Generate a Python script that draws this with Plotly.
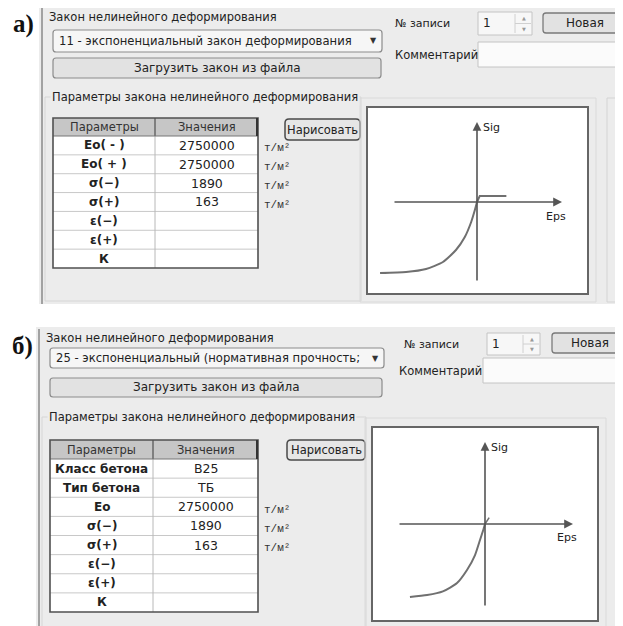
import plotly.graph_objects as go

W, H = 623, 626          # reference picture size
OFF = 8                  # page body margin of the browser
FW, FH = W - OFF, H - OFF  # figure size so that it fits the window

# ---------------- data ----------------
panel_labels = ["а)", "б)"]
law_group_title = "Закон нелинейного деформирования"
law_names = ["11 - экспоненциальный закон деформирования",
             "25 - экспоненциальный (нормативная прочность;"]
load_button = "Загрузить закон из файла"
record_label = "№ записи"
record_no = "1"
new_button = "Новая"
comment_label = "Комментарий"
params_title = "Параметры закона нелинейного деформирования"
table_headers = ["Параметры", "Значения"]
draw_button = "Нарисовать"
unit = "т/м²"
axis_x_label = "Eps"
axis_y_label = "Sig"

params_a = ["Eo( - )", "Eo( + )", "σ(−)", "σ(+)", "ε(−)", "ε(+)", "К"]
values_a = ["2750000", "2750000", "1890", "163", "", "", ""]
units_a = [unit, unit, unit, unit, "", "", ""]

params_b = ["Класс бетона", "Тип бетона", "Eo", "σ(−)", "σ(+)", "ε(−)", "ε(+)", "К"]
values_b = ["B25", "ТБ", "2750000", "1890", "163", "", "", ""]
units_b = ["", "", unit, unit, unit, "", "", ""]

# stress-strain curves (relative units)
eps_a_comp = [-3.5, -2.56, -1.84, -1.23, -0.76, -0.44, -0.21, -0.08, 0]
sig_a_comp = [-1890, -1863, -1783, -1597, -1278, -932, -532, -221, 0]
eps_a_tens = [0, 0.1, 1.06]
sig_a_tens = [0, 163, 163]
eps_b_comp = [-2.71, -2.09, -1.52, -1.01, -0.65, -0.36, -0.18, -0.06, 0]
sig_b_comp = [-1890, -1839, -1743, -1528, -1191, -803, -414, -148, 0]
eps_b_tens = [0, 0.15]
sig_b_tens = [0, 163]

# ---------------- helpers ----------------
UI = "DejaVu Sans"
TXT = "#222222"
BG = "#ececec"

shapes = []
annotations = []


def px(x):
    return (x - OFF) / FW


def py(y):
    return 1 - (y - OFF) / FH


def rect(x0, y0, x1, y1, fill="rgba(0,0,0,0)", line="#888888", lw=1.0):
    shapes.append(dict(type="rect", xref="paper", yref="paper",
                       x0=px(x0), x1=px(x1), y0=py(y1), y1=py(y0),
                       fillcolor=fill, line=dict(color=line, width=lw), layer="below"))


def rrect(x0, y0, x1, y1, r, fill, line, lw=1.0):
    pts = [("M", (x0 + r, y0)), ("L", (x1 - r, y0)), ("Q", (x1, y0), (x1, y0 + r)),
           ("L", (x1, y1 - r)), ("Q", (x1, y1), (x1 - r, y1)), ("L", (x0 + r, y1)),
           ("Q", (x0, y1), (x0, y1 - r)), ("L", (x0, y0 + r)), ("Q", (x0, y0), (x0 + r, y0))]
    s = ""
    for p in pts:
        s += p[0] + " " + " ".join(f"{px(a):.5f},{py(b):.5f}" for a, b in p[1:]) + " "
    s += "Z"
    shapes.append(dict(type="path", xref="paper", yref="paper", path=s,
                       fillcolor=fill, line=dict(color=line, width=lw), layer="below"))


def hline(x0, x1, y, color="#999999", lw=1.0):
    shapes.append(dict(type="line", xref="paper", yref="paper", x0=px(x0), x1=px(x1),
                       y0=py(y), y1=py(y), line=dict(color=color, width=lw), layer="below"))


def vline(x, y0, y1, color="#999999", lw=1.0):
    shapes.append(dict(type="line", xref="paper", yref="paper", x0=px(x), x1=px(x),
                       y0=py(y0), y1=py(y1), line=dict(color=color, width=lw), layer="below"))


def text(x, y, s, size=12, anchor="left", family=UI, color=TXT, bg=None, yanchor="middle"):
    a = dict(xref="paper", yref="paper", x=px(x), y=py(y), text=s, showarrow=False,
             xanchor=anchor, yanchor=yanchor, font=dict(family=family, size=size, color=color))
    if bg:
        a["bgcolor"] = bg
    annotations.append(a)


def panel(oy, lx, lab, law, params, values, units, tbl, plot, dd, btn, rec, newb, com, comb, drawb, tyt):
    # gray background + left border
    rect(lx - 3, oy[0], W + 2, oy[1], fill=BG, line=BG, lw=0)
    vline(lx, oy[0] + 2, oy[1], color="#8a8a8a", lw=1.5)
    # panel letter
    text(lab[0], lab[1], "<b>" + lab[2] + "</b>", size=25, anchor="center",
         family="Liberation Serif", yanchor="top", color="#111111")
    text(lx + 5, oy[0] + 11, law_group_title, size=11.5)
    # combobox
    rrect(dd[0], dd[1], dd[2], dd[3], 3, "#f6f6f6", "#8c8c8c", 1.2)
    text(dd[0] + 4, (dd[1] + dd[3]) / 2, law, size=11.6)
    text(dd[2] - 9, (dd[1] + dd[3]) / 2, "▼", size=8, anchor="center", color="#333333")
    # load button
    rrect(btn[0], btn[1], btn[2], btn[3], 3, "#e2e2e2", "#8c8c8c", 1.2)
    text((btn[0] + btn[2]) / 2, (btn[1] + btn[3]) / 2, load_button, size=12, anchor="center")
    # record number
    text(rec[0] - 85, (rec[1] + rec[3]) / 2, record_label, size=11)
    rect(rec[0], rec[1], rec[2], rec[3], fill="#f7f7f7", line="#c4c4c4", lw=1)
    vline(rec[2] - 17, rec[1] + 2, rec[3] - 2, color="#d0d0d0")
    hline(rec[2] - 17, rec[2] - 1, (rec[1] + rec[3]) / 2, color="#d0d0d0")
    text(rec[0] + 9, (rec[1] + rec[3]) / 2, record_no, size=12, anchor="center")
    text(rec[2] - 8, rec[1] + 6, "▲", size=5, anchor="center", color="#999999")
    text(rec[2] - 8, rec[3] - 6, "▼", size=5, anchor="center", color="#999999")
    rrect(newb[0], newb[1], newb[2], newb[3], 3, "#e2e2e2", "#7a7a7a", 1.3)
    text((newb[0] + min(newb[2], W)) / 2 + 2, (newb[1] + newb[3]) / 2, new_button, size=12, anchor="center")
    # comment
    text(com[0], com[1], comment_label, size=11.5)
    rect(comb[0], comb[1], comb[2], comb[3], fill="#fbfbfb", line="#c4c4c4", lw=1)
    # parameter group box (faint)
    rect(lx + 3, tyt, plot[0] - 6, oy[1] - 3, line="#d6d6d6", lw=1)
    text(tbl[0] - 3, tyt, params_title, size=11.5, bg=BG)
    # table
    x0, y0, x1, y1, xd, hh = tbl
    n = len(params)
    rh = (y1 - y0 - hh) / n
    rect(x0, y0 + hh, x1, y1, fill="#ffffff", line="#ffffff", lw=0)
    rect(x0, y0, x1, y0 + hh, fill="#c6c6c6", line="#c6c6c6", lw=0)
    for i in range(1, n):
        hline(x0, x1, y0 + hh + i * rh, color="#c8c8c8", lw=1)
    vline(xd, y0, y1, color="#b8b8b8", lw=1)
    vline(xd, y0, y0 + hh, color="#555555", lw=1.2)
    hline(x0, x1, y0 + hh, color="#777777", lw=1)
    rect(x0, y0, x1, y1, line="#505050", lw=1.6)
    vline(x1 - 1, y0, y0 + hh, color="#333333", lw=2)
    text((x0 + xd) / 2, y0 + hh / 2, table_headers[0], size=11.5, anchor="center", color="#333333")
    text((xd + x1) / 2, y0 + hh / 2, table_headers[1], size=11.5, anchor="center", color="#333333")
    for i in range(n):
        yc = y0 + hh + (i + 0.5) * rh
        text((x0 + xd) / 2, yc, "<b>" + params[i] + "</b>", size=12, anchor="center")
        if values[i]:
            text((xd + x1) / 2, yc, values[i], size=12.5, anchor="center")
        if units[i]:
            text(x1 + 4, yc + 3, units[i], size=11, family="Liberation Mono", color="#333333")
    # draw button
    rrect(drawb[0], drawb[1], drawb[2], drawb[3], 4, "#e6e6e6", "#4a4a4a", 1.5)
    text((drawb[0] + drawb[2]) / 2, (drawb[1] + drawb[3]) / 2, draw_button, size=11.5, anchor="center")
    # plot group panels (faint) and white plot box
    rect(plot[0] - 7, plot[1] - 9, plot[2] + 8, oy[1] - 2, line="#dadada", lw=1)
    rect(plot[2] + 19, plot[1] - 9, W + 10, oy[1] - 2, line="#d4d4d4", lw=1)
    rect(plot[0], plot[1], plot[2], plot[3], fill="#ffffff", line="#666666", lw=2)


# panel a
panel(oy=(6, 304), lx=42, lab=(23, 8, panel_labels[0]), law=law_names[0],
      params=params_a, values=values_a, units=units_a,
      tbl=(53, 118, 258, 268, 155, 18), plot=(367, 107, 588, 294),
      dd=(53, 30, 382, 52), btn=(53, 58, 381, 78), rec=(478, 12, 532, 35),
      newb=(543, 13, 632, 33), com=(393, 55), comb=(478, 42, 640, 67),
      drawb=(285, 119, 360, 140), tyt=97)

# panel b
panel(oy=(327, 630), lx=39, lab=(22, 330, panel_labels[1]), law=law_names[1],
      params=params_b, values=values_b, units=units_b,
      tbl=(50, 440, 258, 612, 153, 19), plot=(372, 427, 598, 621),
      dd=(50, 348, 384, 368), btn=(50, 378, 382, 397), rec=(487, 333, 540, 355),
      newb=(552, 333, 640, 353), com=(397, 371), comb=(483, 358, 640, 383),
      drawb=(287, 440, 365, 460), tyt=417)

# ---------------- stress-strain plots ----------------
EPS_PX = 27.7  # px per eps unit


def setup_axes(box, origin, sig_px):
    bx0, by0, bx1, by1 = box
    ox, oy = origin
    xr = [(bx0 - ox) / EPS_PX, (bx1 - ox) / EPS_PX]
    yr = [(oy - by1) / sig_px, (oy - by0) / sig_px]
    xa = dict(domain=[px(bx0), px(bx1)], range=xr, visible=False, fixedrange=True)
    ya = dict(domain=[py(by1), py(by0)], range=yr, visible=False, fixedrange=True)
    return xa, ya


sig_px_a = 71 / 1890
sig_px_b = 73 / 1890
origin_a = (477, 202)
origin_b = (485, 524)
xa1, ya1 = setup_axes((369, 109, 586, 292), origin_a, sig_px_a)
xa2, ya2 = setup_axes((374, 429, 596, 619), origin_b, sig_px_b)
ya1["anchor"] = "x"
xa1["anchor"] = "y"
ya2["anchor"] = "x2"
xa2["anchor"] = "y2"

fig = go.Figure()
curve_style = dict(color="#707070", width=2, shape="spline", smoothing=0.6)
fig.add_trace(go.Scatter(x=eps_a_comp, y=sig_a_comp, mode="lines", line=curve_style,
                         xaxis="x", yaxis="y", showlegend=False, hoverinfo="skip"))
fig.add_trace(go.Scatter(x=eps_a_tens, y=sig_a_tens, mode="lines",
                         line=dict(color="#707070", width=2),
                         xaxis="x", yaxis="y", showlegend=False, hoverinfo="skip"))
fig.add_trace(go.Scatter(x=eps_b_comp, y=sig_b_comp, mode="lines", line=curve_style,
                         xaxis="x2", yaxis="y2", showlegend=False, hoverinfo="skip"))
fig.add_trace(go.Scatter(x=eps_b_tens, y=sig_b_tens, mode="lines",
                         line=dict(color="#707070", width=1.5),
                         xaxis="x2", yaxis="y2", showlegend=False, hoverinfo="skip"))


def axis_arrows(xr, yr, origin, sig_px, hx, vy, lab_sig, lab_eps):
    ox, oy = origin
    annotations.append(dict(xref=xr, yref=yr, axref=xr, ayref=yr,
                            x=(hx[1] - ox) / EPS_PX, y=0, ax=(hx[0] - ox) / EPS_PX, ay=0,
                            text="", showarrow=True, arrowhead=2, arrowsize=1.1,
                            arrowwidth=1.6, arrowcolor="#555555"))
    annotations.append(dict(xref=xr, yref=yr, axref=xr, ayref=yr,
                            x=0, y=(oy - vy[0]) / sig_px, ax=0, ay=(oy - vy[1]) / sig_px,
                            text="", showarrow=True, arrowhead=2, arrowsize=1.1,
                            arrowwidth=1.6, arrowcolor="#555555"))
    text(lab_sig[0], lab_sig[1], axis_y_label, size=11)
    text(lab_eps[0], lab_eps[1], axis_x_label, size=11)


axis_arrows("x", "y", origin_a, sig_px_a, (393, 562), (122, 282), (481, 127), (544, 216))
axis_arrows("x2", "y2", origin_b, sig_px_b, (398, 573), (442, 607), (489, 447), (555, 537))

fig.update_layout(
    width=FW, height=FH, autosize=False,
    margin=dict(l=0, r=0, t=0, b=0),
    paper_bgcolor="#ffffff", plot_bgcolor="rgba(0,0,0,0)",
    xaxis=xa1, yaxis=ya1, xaxis2=xa2, yaxis2=ya2,
    shapes=shapes, annotations=annotations, showlegend=False,
)

fig.write_html("out.html", config={"displayModeBar": False})
